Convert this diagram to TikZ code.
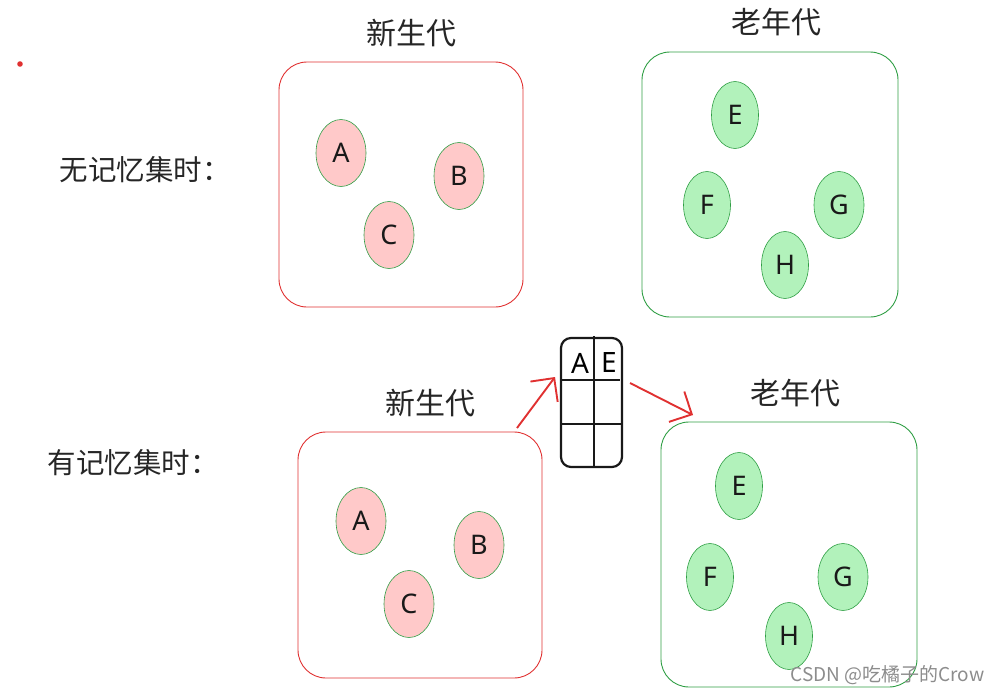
\documentclass[tikz,border=0pt]{standalone}
\usepackage{fontspec}
\setmainfont{Noto Sans}
\newfontfamily\cjk{Noto Sans CJK SC}
\usetikzlibrary{shapes.geometric,arrows.meta}
\definecolor{exred}{HTML}{E03131}
\definecolor{expink}{HTML}{FFC9C9}
\definecolor{exgreen}{HTML}{2F9E44}
\definecolor{exlgreen}{HTML}{B2F2BB}
\tikzset{
  redbox/.style={draw=exred, line width=0.9pt, rounded corners=28pt},
  greenbox/.style={draw=exgreen, line width=0.9pt, rounded corners=28pt},
  pinkell/.style={ellipse, draw=exgreen, line width=0.6pt, fill=expink, minimum width=50pt, minimum height=67pt, inner sep=0pt, font=\fontsize{27}{29}\selectfont, text=black!90},
  greenell/.style={ellipse, draw=exgreen, line width=0.6pt, fill=exlgreen, minimum width=47pt, minimum height=67pt, inner sep=0pt, font=\fontsize{27}{29}\selectfont, text=black!90},
  title/.style={font=\cjk\fontsize{30}{32}\selectfont, text=black!85},
  sidelabel/.style={font=\cjk\fontsize{28.5}{31}\selectfont, text=black!85},
  cell/.style={font=\fontsize{28}{30}\selectfont, inner sep=0pt},
  redarrow/.style={draw=exred, line width=1.9pt, -{Straight Barb[length=17pt, width=34pt, line width=1.9pt]}},
  tableline/.style={draw=black!90, line width=2.2pt}
}
\begin{document}
\begin{tikzpicture}[x=1pt,y=-1pt]
\useasboundingbox (0,0) rectangle (1002,694);
% red dot
\fill[exred] (20,64) circle (2.8pt);
% ---------- top row ----------
\node[sidelabel, anchor=west] (l1) at (56,170) {无记忆集时：};
\draw[redbox] (279,62) rectangle (523,307);
\node[title] (t1) at (411,33) {新生代};
\draw[greenbox] (642,52) rectangle (898,317);
\node[title] (t2) at (776,22) {老年代};
\node[pinkell] (a1) at (341,153) {A};
\node[pinkell] (b1) at (459,176) {B};
\node[pinkell] (c1) at (389,235) {C};
\node[greenell] (e1) at (735,115) {E};
\node[greenell] (f1) at (707,205) {F};
\node[greenell, minimum width=50pt] (g1) at (839,205) {G};
\node[greenell] (h1) at (785,265) {H};
% ---------- bottom row ----------
\node[sidelabel, anchor=west] (l2) at (44,463) {有记忆集时：};
\draw[redbox] (298,432) rectangle (542,678);
\node[title] (t3) at (430,403) {新生代};
\draw[greenbox] (661,422) rectangle (917,687);
\node[title] (t4) at (795,393) {老年代};
\node[pinkell] (a2) at (361,521) {A};
\node[pinkell] (b2) at (479,545) {B};
\node[pinkell] (c2) at (409,604) {C};
\node[greenell] (e2) at (739,486) {E};
\node[greenell] (f2) at (710,577) {F};
\node[greenell, minimum width=50pt] (g2) at (843,577) {G};
\node[greenell] (h2) at (789,636) {H};
% ---------- table ----------
\draw[tableline, rounded corners=10pt] (561,338) rectangle (622,467);
\draw[tableline] (594,336) -- (594,467);
\draw[tableline] (561,380) -- (620,380);
\draw[tableline] (562,424) -- (621,424);
\node[cell] (ca) at (580,363) {A};
\node[cell] (ce) at (609,362) {E};
% arrows
\coordinate (s1) at (517,428);
\coordinate (e1a) at (555,377);
\coordinate (s2) at (630,383);
\coordinate (e2a) at (693,415);
\draw[redarrow] (s1) -- (e1a);
\draw[redarrow] (s2) -- (e2a);
% watermark
\node[font=\cjk\fontsize{19}{21}\selectfont, text=black!45, anchor=east] (wm) at (988,675) {CSDN @吃橘子的Crow};
\end{tikzpicture}
\end{document}
